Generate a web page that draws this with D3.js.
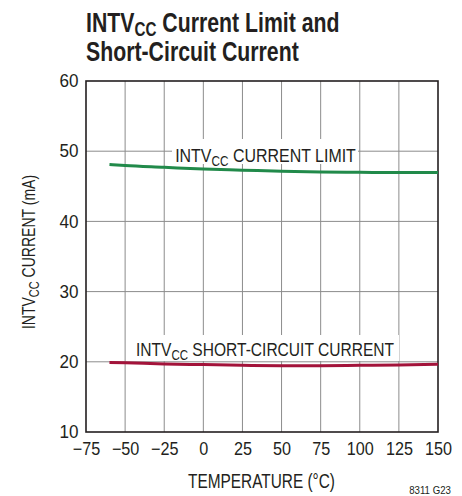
<!DOCTYPE html>
<html>
<head>
<meta charset="utf-8">
<script src="https://cdn.jsdelivr.net/npm/d3@7"></script>
<style>
  body { margin: 0; background: #fff; }
  svg { display: block; font-family: "Liberation Sans", Arial, sans-serif; }
</style>
</head>
<body>
<svg id="chart" width="462" height="496"></svg>
<script>
// data
const xTicks = [-75, -50, -25, 0, 25, 50, 75, 100, 125, 150];
const yTicks = [10, 20, 30, 40, 50, 60];
const temps = [-60, -50, -25, 0, 25, 50, 75, 100, 125, 150];
const limitCurrent = [48.1, 47.95, 47.7, 47.45, 47.3, 47.15, 47.05, 47.0, 46.95, 46.95];
const shortCurrent = [19.9, 19.85, 19.7, 19.6, 19.5, 19.45, 19.45, 19.5, 19.55, 19.65];

const ink = "#231f20";
const svg = d3.select("#chart");
const margin = { top: 81, right: 24, bottom: 64, left: 86 };
const width = 462 - margin.left - margin.right;
const height = 496 - margin.top - margin.bottom;

const x = d3.scaleLinear().domain([-75, 150]).range([0, width]);
const y = d3.scaleLinear().domain([10, 60]).range([height, 0]);

// narrow text: the reference uses a condensed face, so squeeze horizontally
function narrowText(parent, tx, ty, sx, size, anchor, rot) {
  const grp = parent.append("g")
    .attr("transform", `translate(${tx},${ty})${rot ? " rotate(" + rot + ")" : ""} scale(${sx},1)`);
  return grp.append("text")
    .attr("text-anchor", anchor || "start")
    .style("font-size", size + "px").attr("fill", ink);
}
function withSub(t, pre, sub, post, subSize, shift) {
  t.append("tspan").text(pre);
  t.append("tspan").text(sub).style("font-size", subSize + "px").attr("dy", shift);
  t.append("tspan").text(post).attr("dy", -shift);
  return t;
}

// title
const t0 = narrowText(svg, 86, 32, 0.76, 28, "start").style("font-weight", "bold");
withSub(t0, "INTV", "CC", " Current Limit and", 20, 4);
narrowText(svg, 86, 61, 0.76, 28, "start").style("font-weight", "bold")
  .text("Short-Circuit Current");

const g = svg.append("g").attr("transform", `translate(${margin.left},${margin.top})`);

// grid
g.append("g")
  .selectAll("line")
  .data(xTicks.slice(1, -1))
  .enter().append("line")
  .attr("x1", d => x(d)).attr("x2", d => x(d))
  .attr("y1", 0).attr("y2", height)
  .attr("stroke", "#8c8c8c").attr("stroke-width", 1);
g.append("g")
  .selectAll("line")
  .data(yTicks.slice(1, -1))
  .enter().append("line")
  .attr("x1", 0).attr("x2", width)
  .attr("y1", d => y(d)).attr("y2", d => y(d))
  .attr("stroke", "#8c8c8c").attr("stroke-width", 1);

// frame
g.append("rect")
  .attr("width", width).attr("height", height)
  .attr("fill", "none").attr("stroke", ink).attr("stroke-width", 1.6);

// axes (labels only)
const xAxis = g.append("g")
  .attr("transform", `translate(0,${height})`)
  .call(d3.axisBottom(x).tickValues(xTicks).tickSize(0).tickPadding(10)
    .tickFormat(d => d < 0 ? "\u2212" + Math.abs(d) : d));
const yAxis = g.append("g")
  .call(d3.axisLeft(y).tickValues(yTicks).tickSize(0).tickPadding(8));
[xAxis, yAxis].forEach(a => {
  a.select(".domain").remove();
  a.selectAll("text").style("font-size", "18px").attr("fill", ink)
    .style("font-family", "'Liberation Sans', Arial, sans-serif");
});
xAxis.selectAll("text").attr("transform", "scale(0.9,1)");
yAxis.selectAll("text").attr("transform", "scale(0.95,1)");

// curve labels with white boxes
g.append("rect").attr("x", 86).attr("y", 58).attr("width", 186).attr("height", 25).attr("fill", "#fff");
withSub(narrowText(g, 179.5, 81, 0.84, 19, "middle"), "INTV", "CC", " CURRENT LIMIT", 14, 4);

g.append("rect").attr("x", 47).attr("y", 254).attr("width", 266).attr("height", 26).attr("fill", "#fff");
withSub(narrowText(g, 179, 275, 0.82, 19, "middle"), "INTV", "CC", " SHORT-CIRCUIT CURRENT", 14, 4);

// curves
const line = d3.line().x(d => x(d[0])).y(d => y(d[1])).curve(d3.curveMonotoneX);
g.append("path")
  .datum(d3.zip(temps, limitCurrent))
  .attr("d", line).attr("fill", "none")
  .attr("stroke", "#218a4a").attr("stroke-width", 3);
g.append("path")
  .datum(d3.zip(temps, shortCurrent))
  .attr("d", line).attr("fill", "none")
  .attr("stroke", "#a3133a").attr("stroke-width", 3);

// axis titles
withSub(narrowText(svg, 35, 252, 0.78, 18, "middle", -90), "INTV", "CC", " CURRENT (mA)", 14, 4);

narrowText(svg, 261.5, 488, 0.77, 20, "middle").text("TEMPERATURE (\u00B0C)");

narrowText(svg, 451, 494, 0.88, 11, "end").text("8311 G23");
</script>
</body>
</html>
